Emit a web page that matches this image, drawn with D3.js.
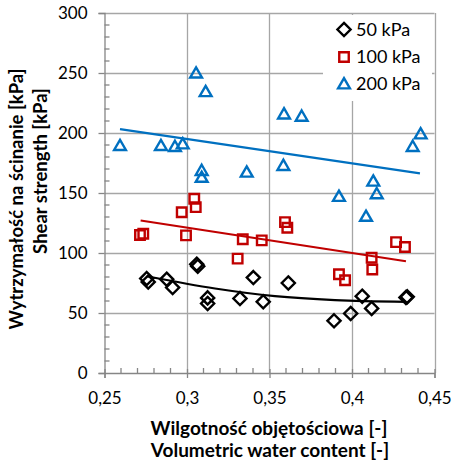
<!DOCTYPE html>
<html><head><meta charset="utf-8">
<script src="https://cdn.jsdelivr.net/npm/d3@7"></script>
<style>
html,body{margin:0;padding:0;background:#fff;}
svg{display:block;}
text{font-family:Lato,"Open Sans",sans-serif;}
</style></head>
<body><svg id="c" width="453" height="463"></svg>
<script>
// ---- data ----
const seriesNames = ["50 kPa", "100 kPa", "200 kPa"];
const x50 = [0.2756,0.2765,0.2877,0.2913,0.3059,0.3065,0.3125,0.3125,0.3321,0.3402,0.3462,0.3614,0.3891,0.3992,0.4062,0.4119,0.4327,0.4335];
const y50 = [78.7,75.9,78.1,71.2,90.6,88.9,62.6,57.9,62.1,79.5,59.3,75.0,43.5,49.6,64.0,53.8,62.9,63.5];
const x100 = [0.2715,0.2735,0.2968,0.2994,0.3044,0.3053,0.3307,0.3338,0.3453,0.3594,0.3608,0.3921,0.3958,0.4119,0.4123,0.4267,0.4321];
const y100 = [115.0,116.0,134.0,114.7,145.2,138.2,95.3,111.4,110.5,125.7,121.1,82.3,77.3,96.1,86.2,109.1,105.0];
const x200 = [0.2594,0.2842,0.2927,0.2974,0.3055,0.3113,0.3089,0.3089,0.3362,0.3588,0.3695,0.3584,0.3921,0.4085,0.4129,0.4150,0.4368,0.4416];
const y200 = [189.5,189.5,188.7,190.9,249.9,234.4,168.7,163.0,167.3,215.8,213.9,172.9,147.1,130.5,159.8,149.3,188.7,199.2];
// trendlines
const trend50x = [0.2756,0.317,0.3533,0.3897,0.4327];
const trend50y = [80.6,70.4,64.0,60.7,59.3];
const trend100x = [0.2719,0.4327];
const trend100y = [127.1,93.1];
const trend200x = [0.2594,0.4412];
const trend200y = [203.3,166.4];
const xTicks = [0.25,0.30,0.35,0.40,0.45];
const yTicks = [0,50,100,150,200,250,300];
const xLabel = ["Wilgotność objętościowa [-]", "Volumetric water content [-]"];
const yLabel = ["Wytrzymałość na ścinanie [kPa]", "Shear strength [kPa]"];

const colors = ["#000000", "#C00000", "#0070C0"];
const svg = d3.select("#c");
const L = 104.5, R = 434.5, T = 13, B = 373;
const x = d3.scaleLinear().domain([0.25,0.45]).range([L,R]);
const y = d3.scaleLinear().domain([0,300]).range([B,T]);
const gridC = "#a6a6a6", axisC = "#868686";

// grid
const g = svg.append("g");
g.selectAll(".hg").data(yTicks.slice(1)).enter().append("line")
  .attr("x1",L).attr("x2",R).attr("y1",d=>Math.round(y(d))+0.5).attr("y2",d=>Math.round(y(d))+0.5)
  .attr("stroke",gridC).attr("stroke-width",1.3);
g.selectAll(".vg").data(xTicks.slice(1)).enter().append("line")
  .attr("y1",T).attr("y2",B).attr("x1",d=>Math.round(x(d))+0.5).attr("x2",d=>Math.round(x(d))+0.5)
  .attr("stroke",gridC).attr("stroke-width",1.3);

// axes
const xAxis = d3.axisBottom(x).tickValues(xTicks).tickSize(5).tickPadding(14)
  .tickFormat(d=>d3.format(".2~f")(d).replace(".",","));
const gx = svg.append("g").attr("transform",`translate(0,${B})`).call(xAxis);
const yAxis = d3.axisLeft(y).tickValues(yTicks).tickSize(6).tickPadding(11);
const gy = svg.append("g").attr("transform",`translate(${L},0)`).call(yAxis);
[gx,gy].forEach(a=>{
  a.select(".domain").attr("stroke",axisC).attr("stroke-width",1.3);
  a.selectAll(".tick line").attr("stroke",axisC).attr("stroke-width",1.3);
  a.selectAll(".tick text").attr("font-family","Lato").attr("font-size",17).attr("fill","#000");
});
gx.selectAll(".tick line").attr("y1",-4);
// minor ticks
const xMinor = d3.range(26,45).map(v=>v/100).filter(v=>Math.round(v*100)%5!==0);
svg.append("g").selectAll("line").data(xMinor).enter().append("line")
  .attr("x1",d=>x(d)).attr("x2",d=>x(d)).attr("y1",B).attr("y2",B-5)
  .attr("stroke",axisC).attr("stroke-width",1.3);
const yMinor = d3.range(10,300,10).filter(v=>v%50!==0);
svg.append("g").selectAll("line").data(yMinor).enter().append("line")
  .attr("y1",d=>y(d)).attr("y2",d=>y(d)).attr("x1",L).attr("x2",L+5)
  .attr("stroke",axisC).attr("stroke-width",1.3);

// legend background (covers grid)
svg.append("rect").attr("x",323).attr("y",15).attr("width",109).attr("height",86).attr("fill","#fff");

// trendlines
const line = d3.line().x(d=>x(d[0])).y(d=>y(d[1]));
const trends = [
  {xs:trend50x, ys:trend50y, curve:d3.curveMonotoneX},
  {xs:trend100x, ys:trend100y, curve:d3.curveLinear},
  {xs:trend200x, ys:trend200y, curve:d3.curveLinear}];
trends.forEach((t,i)=>{
  svg.append("path").attr("d", line.curve(t.curve)(t.xs.map((v,j)=>[v,t.ys[j]])))
    .attr("fill","none").attr("stroke",colors[i]).attr("stroke-width",2.2);
});

// markers
const sym = [d3.symbolDiamond2, d3.symbolSquare2, d3.symbolTriangle2];
const sizes = [110, 115, 100];
const sets = [[x50,y50],[x100,y100],[x200,y200]];
function marker(sel, i){
  sel.attr("d", d3.symbol().type(sym[i]).size(sizes[i])())
    .attr("fill","none").attr("stroke",colors[i]).attr("stroke-width",2.4);
}
sets.forEach((s,i)=>{
  const pts = s[0].map((v,j)=>[v,s[1][j]]);
  svg.append("g").selectAll("path").data(pts).enter().append("path")
    .call(marker,i)
    .attr("transform",d=>`translate(${x(d[0])},${y(d[1])})${i===2?" translate(0,1)":""}`);
});

// legend
const legY = [29.5, 57, 84];
seriesNames.forEach((n,i)=>{
  svg.append("path").call(marker,i).attr("transform",`translate(344,${legY[i]+(i===2?1:0)})`);
  svg.append("text").attr("x",356).attr("y",legY[i]).attr("dy","0.35em")
    .attr("font-size",18).text(n);
});

// axis titles
svg.append("text").attr("x",269).attr("y",435).attr("text-anchor","middle")
  .attr("font-weight","bold").attr("font-size",19).text(xLabel[0]);
svg.append("text").attr("x",270).attr("y",457).attr("text-anchor","middle")
  .attr("font-weight","bold").attr("font-size",19).text(xLabel[1]);
svg.append("text").attr("transform","translate(23,199) rotate(-90)").attr("text-anchor","middle")
  .attr("font-weight","bold").attr("font-size",18.5).text(yLabel[0]);
svg.append("text").attr("transform","translate(47,171) rotate(-90)").attr("text-anchor","middle")
  .attr("font-weight","bold").attr("font-size",18.5).text(yLabel[1]);
</script></body></html>
